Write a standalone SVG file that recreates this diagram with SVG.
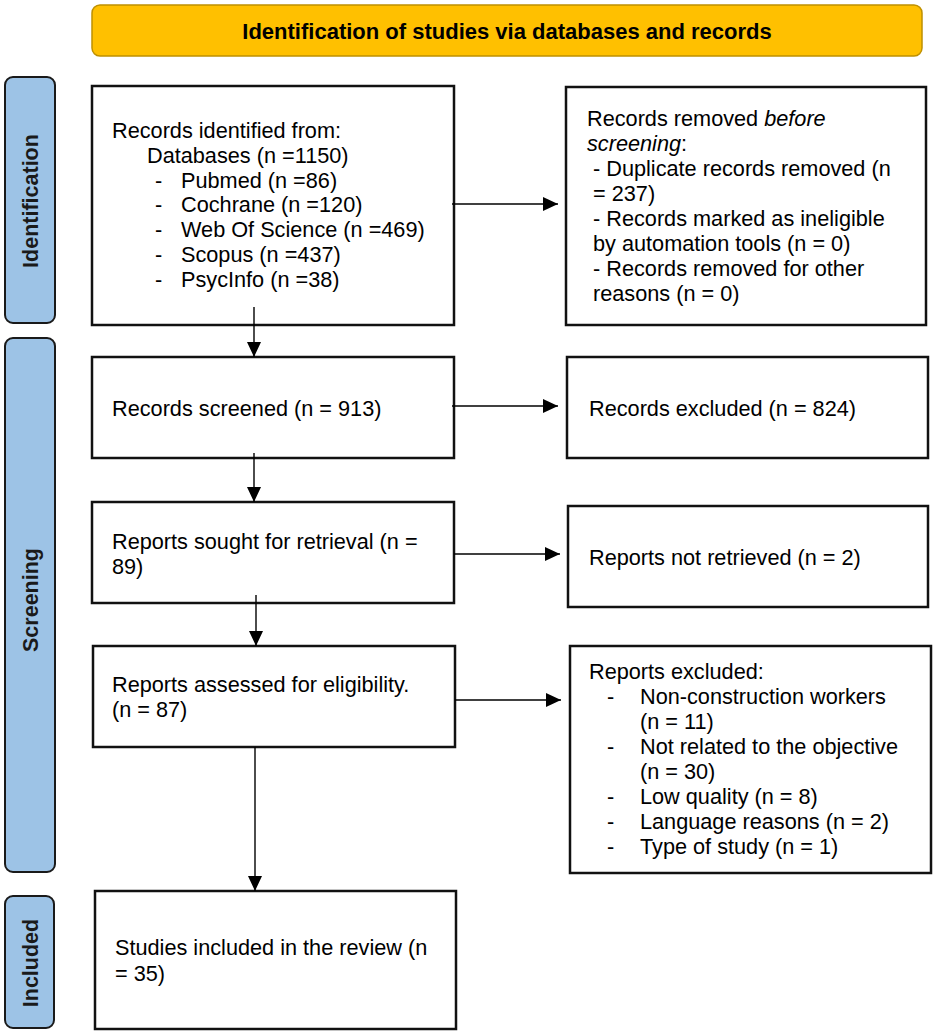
<svg xmlns="http://www.w3.org/2000/svg" width="935" height="1035" viewBox="0 0 935 1035">
<style>
.box{fill:#fff;stroke:#111;stroke-width:2.5}
.side{fill:#9DC3E6;stroke:#1a1a1a;stroke-width:2}
.t{font-family:"Liberation Sans",Arial,sans-serif;font-size:21.7px;fill:#000}
.st{font-family:"Liberation Sans",Arial,sans-serif;font-size:21.5px;font-weight:bold;fill:#1a1a1a}
.bt{font-family:"Liberation Sans",Arial,sans-serif;font-size:22px;font-weight:bold;fill:#000}
.c{stroke:#000;stroke-width:1.4;fill:none;marker-end:url(#ah)}
</style>
<defs>
<marker id="ah" markerWidth="15" markerHeight="14" refX="15" refY="7" orient="auto" markerUnits="userSpaceOnUse">
<path d="M0,0 L15,7 L0,14 Z" fill="#000"/>
</marker>
</defs>
<g id="banner">
<rect x="92" y="5" width="830" height="51" rx="8" fill="#FFC000" stroke="#BF9000" stroke-width="1.5"/>
<text class="bt" x="507" y="39" text-anchor="middle">Identification of studies via databases and records</text>
</g>
<g id="side-identification">
<rect class="side" x="5" y="77" width="50" height="246" rx="8"/>
<text class="st" transform="translate(38,201) rotate(-90)" text-anchor="middle">Identification</text>
</g>
<g id="side-screening">
<rect class="side" x="5" y="338" width="50" height="534" rx="8"/>
<text class="st" transform="translate(38,600) rotate(-90)" text-anchor="middle">Screening</text>
</g>
<g id="side-included">
<rect class="side" x="5" y="896" width="49" height="132" rx="8"/>
<text class="st" transform="translate(38,963) rotate(-90)" text-anchor="middle">Included</text>
</g>
<g id="records-identified">
<rect class="box" x="92" y="86" width="362" height="239"/>
<text class="t" x="112" y="138">Records identified from:</text>
<text class="t" x="147" y="163">Databases (n =1150)</text>
<text class="t" x="155" y="188">-</text><text class="t" x="181" y="188">Pubmed (n =86)</text>
<text class="t" x="155" y="212">-</text><text class="t" x="181" y="212">Cochrane (n =120)</text>
<text class="t" x="155" y="237">-</text><text class="t" x="181" y="237">Web Of Science (n =469)</text>
<text class="t" x="155" y="262">-</text><text class="t" x="181" y="262">Scopus (n =437)</text>
<text class="t" x="155" y="287">-</text><text class="t" x="181" y="287">PsycInfo (n =38)</text>
</g>
<g id="records-removed">
<rect class="box" x="566" y="87" width="360" height="238"/>
<text class="t" x="587" y="126">Records removed <tspan font-style="italic">before</tspan></text>
<text class="t" x="587" y="151"><tspan font-style="italic">screening</tspan>:</text>
<text class="t" x="593" y="176">- Duplicate records removed (n</text>
<text class="t" x="593" y="201">= 237)</text>
<text class="t" x="593" y="226">- Records marked as ineligible</text>
<text class="t" x="593" y="251">by automation tools (n = 0)</text>
<text class="t" x="593" y="276">- Records removed for other</text>
<text class="t" x="593" y="301">reasons (n = 0)</text>
</g>
<g id="records-screened">
<rect class="box" x="92" y="357" width="362" height="101"/>
<text class="t" x="112" y="416">Records screened (n = 913)</text>
</g>
<g id="records-excluded">
<rect class="box" x="567" y="357" width="361" height="101"/>
<text class="t" x="589" y="416">Records excluded (n = 824)</text>
</g>
<g id="reports-sought">
<rect class="box" x="92" y="502" width="362" height="101"/>
<text class="t" x="112" y="549">Reports sought for retrieval (n =</text>
<text class="t" x="112" y="574">89)</text>
</g>
<g id="reports-not-retrieved">
<rect class="box" x="568" y="506" width="360" height="101"/>
<text class="t" x="589" y="565">Reports not retrieved (n = 2)</text>
</g>
<g id="reports-assessed">
<rect class="box" x="93" y="646" width="362" height="101"/>
<text class="t" x="112" y="692">Reports assessed for eligibility.</text>
<text class="t" x="112" y="717">(n = 87)</text>
</g>
<g id="reports-excluded">
<rect class="box" x="570" y="646" width="361" height="227"/>
<text class="t" x="589" y="679">Reports excluded:</text>
<text class="t" x="607" y="704">-</text><text class="t" x="640" y="704">Non-construction workers</text>
<text class="t" x="640" y="729">(n = 11)</text>
<text class="t" x="607" y="754">-</text><text class="t" x="640" y="754">Not related to the objective</text>
<text class="t" x="640" y="779">(n = 30)</text>
<text class="t" x="607" y="804">-</text><text class="t" x="640" y="804">Low quality (n = 8)</text>
<text class="t" x="607" y="829">-</text><text class="t" x="640" y="829">Language reasons (n = 2)</text>
<text class="t" x="607" y="854">-</text><text class="t" x="640" y="854">Type of study (n = 1)</text>
</g>
<g id="studies-included">
<rect class="box" x="95" y="891" width="361" height="138"/>
<text class="t" x="115" y="955">Studies included in the review (n</text>
<text class="t" x="115" y="981">= 35)</text>
</g>
<g id="connectors">
<line class="c" x1="452" y1="204" x2="558" y2="204"/>
<line class="c" x1="254" y1="307" x2="254" y2="357"/>
<line class="c" x1="452" y1="406" x2="558" y2="406"/>
<line class="c" x1="254" y1="453" x2="254" y2="502"/>
<line class="c" x1="454" y1="554" x2="560" y2="554"/>
<line class="c" x1="256" y1="595" x2="256" y2="646"/>
<line class="c" x1="455" y1="700" x2="561" y2="700"/>
<line class="c" x1="255" y1="747" x2="255" y2="891"/>
</g>
</svg>
